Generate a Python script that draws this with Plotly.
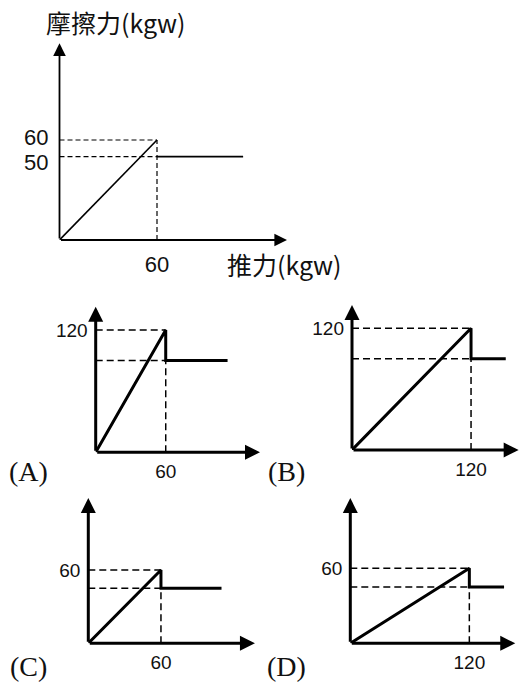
import plotly.graph_objects as go

W, H = 525, 683

# ---------------- data ----------------
# main chart: friction (kgw) vs push (kgw)
main_peak_push = 60
main_static_max = 60
main_kinetic = 50
main_end_push = 113
main_xticks = [60]
main_yticks = [60, 50]

# answer options (A)-(D)
panel_labels = ["(A)", "(B)", "(C)", "(D)"]
peak_push = [60, 120, 60, 120]
peak_friction = [120, 120, 60, 60]
kinetic_friction = [90, 90, 45, 45]
end_push = [113, 155, 110, 155]

# ---------------- layout geometry (pixels) ----------------
# origin x, origin y, px per unit x, px per unit y, axis extent x, axis extent y
geom_main = (59.5, 240, 1.625, 1.667, 140, 118)
geom_panels = [
    (95.7, 452.3, 1.167, 1.019, 140.8, 142.9),
    (352.0, 450.0, 0.992, 1.014, 168.0, 143.0),
    (88.3, 643.3, 1.211, 1.222, 137.6, 118.9),
    (350.3, 643.3, 0.992, 1.25, 166.3, 116.2),
]
label_pos = [(28, 471), (286, 471), (28, 666), (286, 666)]

INK = "#000000"
fig = go.Figure()
layout = dict(width=W, height=H, margin=dict(l=0, r=0, t=0, b=0),
              paper_bgcolor="white", plot_bgcolor="rgba(0,0,0,0)",
              showlegend=False)
annotations = []


def add_axes(idx, geom, xt, yt, tickfont, xstand, ystand, show_y=True):
    ox, oy, sx, sy, xm, ym = geom
    xa = "xaxis" if idx == 1 else f"xaxis{idx}"
    ya = "yaxis" if idx == 1 else f"yaxis{idx}"
    yid = "y" if idx == 1 else f"y{idx}"
    xid = "x" if idx == 1 else f"x{idx}"
    layout[xa] = dict(domain=[ox / W, (ox + xm * sx) / W], range=[0, xm],
                      anchor=yid, showgrid=False, zeroline=False, showline=False,
                      ticks="", tickvals=xt, ticktext=[str(v) for v in xt],
                      tickfont=tickfont, ticklabelstandoff=xstand, fixedrange=True)
    layout[ya] = dict(domain=[1 - oy / H, 1 - (oy - ym * sy) / H], range=[0, ym],
                      anchor=xid, showgrid=False, zeroline=False, showline=False,
                      ticks="", tickvals=yt if show_y else [],
                      ticktext=[str(v) for v in yt] if show_y else [],
                      showticklabels=show_y,
                      tickfont=tickfont, ticklabelstandoff=ystand, fixedrange=True)
    return xid, yid


def line(xid, yid, xs, ys, width, dash="solid"):
    fig.add_trace(go.Scatter(x=xs, y=ys, xaxis=xid, yaxis=yid, mode="lines",
                             line=dict(color=INK, width=width, dash=dash),
                             cliponaxis=False, hoverinfo="skip"))


def axis_arrow(xid, yid, xs, ys, width, head):
    # axis line drawn as an annotation arrow from the origin to the tip
    annotations.append(dict(x=xs[1], y=ys[1], ax=xs[0], ay=ys[0], xref=xid, yref=yid,
                            axref=xid, ayref=yid, text="", showarrow=True,
                            arrowhead=2, arrowsize=head, arrowwidth=width,
                            arrowcolor=INK, standoff=0, startstandoff=0))


# ---------------- main chart ----------------
mfont = dict(family="Liberation Sans, Arial, sans-serif", size=22, color="#111")
xid, yid = add_axes(1, geom_main, main_xticks, main_yticks, mfont, 9, 10, show_y=False)
xm, ym = geom_main[4], geom_main[5]
axis_arrow(xid, yid, [0, xm], [0, 0], 1.8, 1.4)
axis_arrow(xid, yid, [0, 0], [0, ym], 1.8, 1.4)
for lvl in (main_static_max, main_kinetic):
    line(xid, yid, [0, main_peak_push], [lvl, lvl], 1.2, dash="5px,3px")
line(xid, yid, [main_peak_push, main_peak_push], [0, main_static_max], 1.2, dash="5px,3px")
line(xid, yid, [0, main_peak_push], [0, main_static_max], 1.6)
line(xid, yid, [main_peak_push, main_end_push], [main_kinetic, main_kinetic], 1.6)

# y tick labels of the main chart (spread a little apart, as drawn)
for v, shift in zip(main_yticks, [2, -6]):
    annotations.append(dict(text=str(v), x=0, y=v, xref=xid, yref=yid, showarrow=False,
                            xanchor="right", yanchor="middle", xshift=-10, yshift=shift,
                            font=mfont))

cjk = dict(family="Noto Sans CJK TC, Liberation Sans, sans-serif", size=25, color="#111")
annotations.append(dict(text="摩擦力(kgw)", x=115 / W, y=1 - 22 / H, xref="paper", yref="paper",
                        showarrow=False, xanchor="center", yanchor="middle", font=cjk))
annotations.append(dict(text="推力(kgw)", x=284 / W, y=1 - 264 / H, xref="paper", yref="paper",
                        showarrow=False, xanchor="center", yanchor="middle", font=cjk))

# ---------------- option panels ----------------
pfont = dict(family="Liberation Sans, Arial, sans-serif", size=19, color="#111")
for i in range(4):
    g = geom_panels[i]
    xid, yid = add_axes(i + 2, g, [peak_push[i]], [peak_friction[i]], pfont, 6, 7)
    xm, ym = g[4], g[5]
    px, pf, kf, ex = peak_push[i], peak_friction[i], kinetic_friction[i], end_push[i]
    axis_arrow(xid, yid, [0, xm], [0, 0], 3, 1.0)
    axis_arrow(xid, yid, [0, 0], [0, ym], 3, 1.0)
    line(xid, yid, [0, px], [pf, pf], 1.5, dash="7px,4px")
    line(xid, yid, [0, px], [kf, kf], 1.5, dash="7px,4px")
    line(xid, yid, [px, px], [0, kf], 1.5, dash="7px,4px")
    line(xid, yid, [0, px, px, ex], [0, pf, kf, kf], 3)
    lx, ly = label_pos[i]
    annotations.append(dict(text=panel_labels[i], x=lx / W, y=1 - ly / H, xref="paper", yref="paper",
                            showarrow=False, xanchor="center", yanchor="middle",
                            font=dict(family="Liberation Serif, Times New Roman, serif", size=28, color="#111")))

layout["annotations"] = annotations
fig.update_layout(**layout)
fig.write_html("out.html", config={"displayModeBar": False},
               post_script="document.body.style.margin='0px';")
